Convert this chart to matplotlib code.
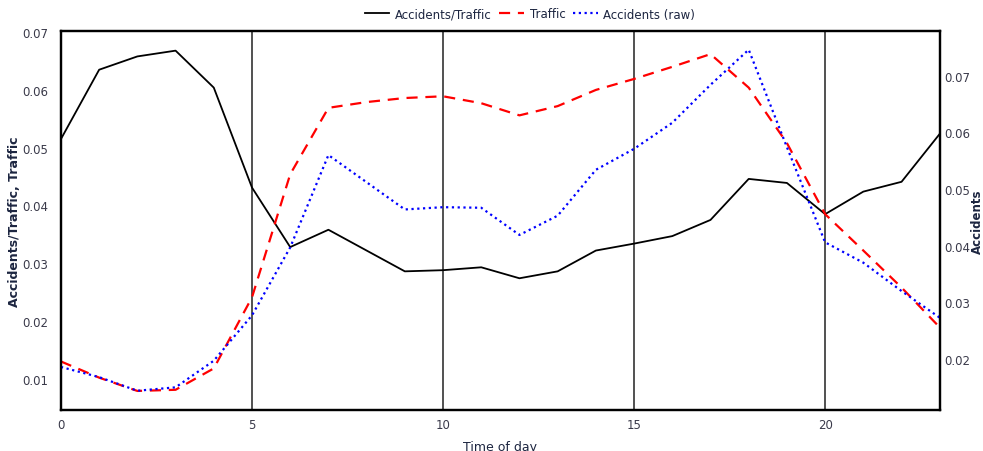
import matplotlib
import matplotlib.pyplot as plt

matplotlib.use("agg")

# hourly values
hours = list(range(24))
acc_per_traffic = [0.0515, 0.0635, 0.0658, 0.0668, 0.0604, 0.0431, 0.0328, 0.0358,
                   0.0322, 0.0286, 0.0288, 0.0293, 0.0274, 0.0286, 0.0322, 0.0334,
                   0.0347, 0.0375, 0.0446, 0.0439, 0.0385, 0.0424, 0.0441, 0.0524]
traffic = [0.0130, 0.0102, 0.0079, 0.0081, 0.0118, 0.0241, 0.0454, 0.0569,
           0.0579, 0.0586, 0.0589, 0.0577, 0.0556, 0.0572, 0.0600, 0.0619,
           0.0640, 0.0662, 0.0604, 0.0508, 0.0385, 0.0322, 0.0258, 0.0189]
accidents = [0.0186, 0.0168, 0.0144, 0.0150, 0.0197, 0.0277, 0.0397, 0.0560,
             0.0512, 0.0464, 0.0468, 0.0467, 0.0419, 0.0453, 0.0534, 0.0571,
             0.0617, 0.0684, 0.0746, 0.0574, 0.0406, 0.0370, 0.0320, 0.0273]

x_ticks = [0, 5, 10, 15, 20]
left_ticks = [0.01, 0.02, 0.03, 0.04, 0.05, 0.06, 0.07]
right_ticks = [0.02, 0.03, 0.04, 0.05, 0.06, 0.07]

tick_color = "#3a3a4a"
label_color = "#1c2540"

fig = plt.figure(figsize=(9.83, 4.52), dpi=100)
ax = fig.add_axes([0.062, 0.0907, 0.894, 0.8385])
ax2 = ax.twinx()

l1, = ax.plot(hours, acc_per_traffic, color="black", lw=1.3, label="Accidents/Traffic")
l2, = ax.plot(hours, traffic, color="red", lw=1.6, dashes=(5, 3.5), label="Traffic")
l3, = ax2.plot(hours, accidents, color="blue", lw=1.6, dashes=(1, 1.6), label="Accidents (raw)")

ax.set_xlim(0, 23)
ax.set_ylim(0.0046, 0.0702)
ax2.set_ylim(0.011, 0.0779)

ax.set_xticks(x_ticks)
ax.set_yticks(left_ticks)
ax2.set_yticks(right_ticks)
ax.set_yticklabels(["%.2f" % v for v in left_ticks])
ax2.set_yticklabels(["%.2f" % v for v in right_ticks])

ax.tick_params(axis="both", length=0, labelsize=8.5, colors=tick_color)
ax.tick_params(axis="y", pad=9)
ax.tick_params(axis="x", pad=6)
ax2.tick_params(axis="y", length=0, labelsize=8.5, colors=tick_color, pad=3)

# vertical grid lines only
ax.grid(axis="x", color="#333333", lw=1.2)
ax.grid(axis="y", visible=False)
ax.set_axisbelow(True)

for a in (ax, ax2):
    for s in a.spines.values():
        s.set_color("black")
        s.set_linewidth(1.6)

ax.set_xlabel("Time of day", fontsize=9, color=label_color, labelpad=6)
ax.set_ylabel("Accidents/Traffic, Traffic", fontsize=9, fontweight="bold", color=label_color)
ax.yaxis.set_label_coords(-0.046, 0.5)
fig.text(0.9945, 0.51, "Accidents", rotation=90, ha="center", va="center",
         fontsize=8.5, fontweight="bold", color=label_color)

fig.legend(handles=[l1, l2, l3], loc="center", bbox_to_anchor=(530 / 983, 1 - 15 / 452),
           ncol=3, frameon=False, fontsize=8.5, handlelength=2.1, handletextpad=0.5,
           columnspacing=0.6, labelcolor=label_color)

fig.savefig("out.png", dpi=100)
